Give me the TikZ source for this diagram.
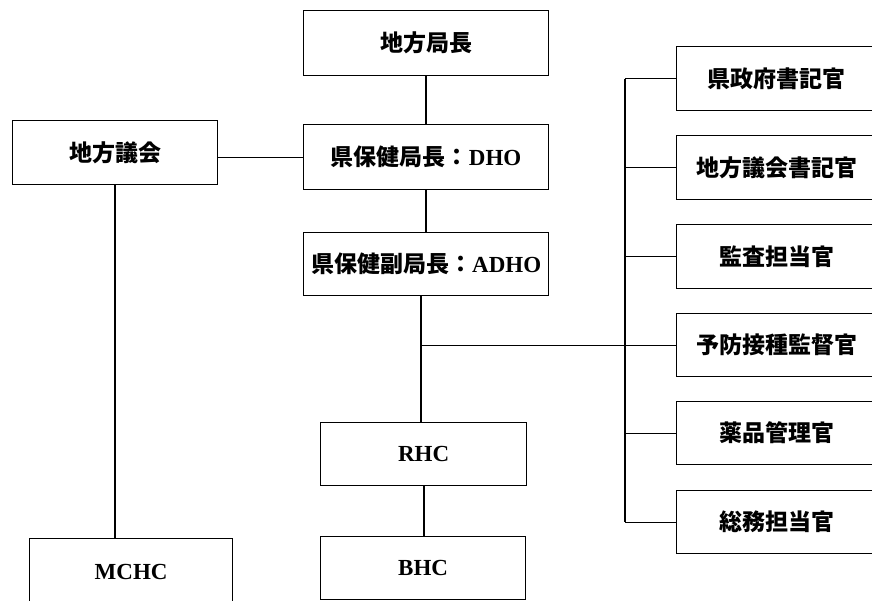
\documentclass[tikz,border=0pt]{standalone}
\usepackage{fontspec}
\setmainfont{Liberation Serif}
\newfontfamily\cjk{Noto Sans CJK JP}
\tikzset{
  box/.style={draw, line width=1.3pt, inner sep=0pt, anchor=north west,
    font=\bfseries\fontsize{23}{27}\selectfont},
  vline/.style={line width=1.9pt},
  hline/.style={line width=0.9pt},
}
\begin{document}
\begin{tikzpicture}[x=1pt,y=-1pt]
\useasboundingbox (0,0) rectangle (872,601);
\clip (0,0) rectangle (872,601);
% central column
\node[box, minimum width=245pt, minimum height=65pt] (top) at (303,10) {{\cjk 地方局長}};
\node[box, minimum width=245pt, minimum height=65pt] (dho) at (303,124) {{\cjk 県保健局長：}DHO};
\node[box, minimum width=245pt, minimum height=63pt] (adho) at (303,232) {{\cjk 県保健副局長：}ADHO};
\node[box, minimum width=206pt, minimum height=63pt] (rhc) at (320,422) {RHC};
\node[box, minimum width=205pt, minimum height=63pt] (bhc) at (320,536) {BHC};
% left column
\node[box, minimum width=205pt, minimum height=64pt] (council) at (12,120) {{\cjk 地方議会}};
\node[box, minimum width=203pt, minimum height=66pt] (mchc) at (29,538) {MCHC};
% right column
\node[box, minimum width=200pt, minimum height=64pt] (r1) at (676,46) {{\cjk 県政府書記官}};
\node[box, minimum width=200pt, minimum height=64pt] (r2) at (676,135) {{\cjk 地方議会書記官}};
\node[box, minimum width=200pt, minimum height=64pt] (r3) at (676,224) {{\cjk 監査担当官}};
\node[box, minimum width=200pt, minimum height=63pt] (r4) at (676,313) {{\cjk 予防接種監督官}};
\node[box, minimum width=200pt, minimum height=63pt] (r5) at (676,401) {{\cjk 薬品管理官}};
\node[box, minimum width=200pt, minimum height=63pt] (r6) at (676,490) {{\cjk 総務担当官}};
\coordinate (bus) at (625,0);
\coordinate (j) at (421,0);
% connectors
\draw[vline] (top.south) -- (dho.north);
\draw[vline] (dho.south) -- (adho.north);
\draw[hline] (dho.west -| council.east) -- (dho.west);
\draw[vline] (council.south) -- (mchc.north -| council.south);
\draw[vline] (adho.south -| j) -- (rhc.north -| j);
\draw[hline] (r4.west -| j) -- (r4.west);
\draw[vline] (rhc.south) -- (rhc.south |- bhc.north);
\draw[vline] (r1.west -| bus) -- (r6.west -| bus);
\draw[hline] (r1.west -| bus) -- (r1.west);
\draw[hline] (r2.west -| bus) -- (r2.west);
\draw[hline] (r3.west -| bus) -- (r3.west);
\draw[hline] (r5.west -| bus) -- (r5.west);
\draw[hline] (r6.west -| bus) -- (r6.west);
\end{tikzpicture}
\end{document}
